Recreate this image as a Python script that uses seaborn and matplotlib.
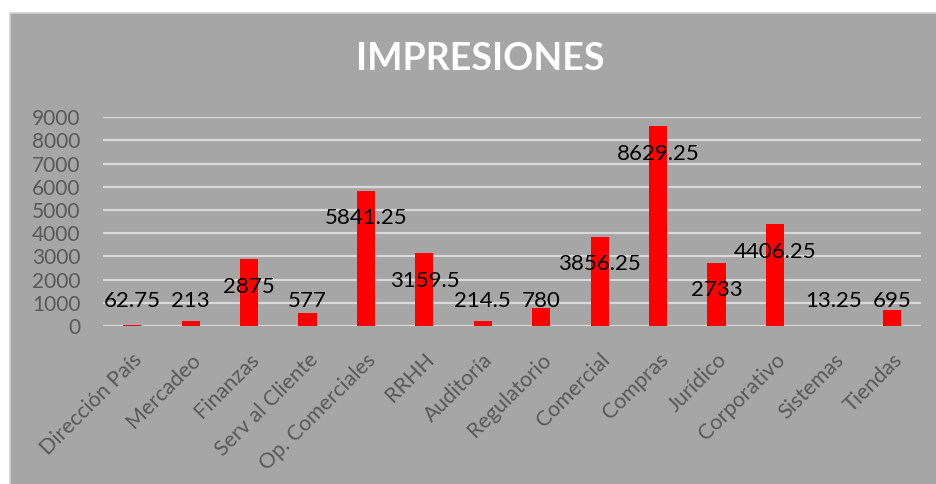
import matplotlib
matplotlib.use("Agg")
import matplotlib.pyplot as plt
import seaborn as sns
import pandas as pd
from matplotlib.patches import Rectangle

categories = ["Dirección País", "Mercadeo", "Finanzas", "Serv al Cliente", "Op. Comerciales",
              "RRHH", "Auditoría", "Regulatorio", "Comercial", "Compras", "Jurídico",
              "Corporativo", "Sistemas", "Tiendas"]
values = [62.75, 213, 2875, 577, 5841.25, 3159.5, 214.5, 780, 3856.25, 8629.25, 2733,
          4406.25, 13.25, 695]
value_labels = ["62.75", "213", "2875", "577", "5841.25", "3159.5", "214.5", "780", "3856.25",
                "8629.25", "2733", "4406.25", "13.25", "695"]
yticks = [0, 1000, 2000, 3000, 4000, 5000, 6000, 7000, 8000, 9000]

sns.set_style("white")
plt.rcParams['font.family'] = ['Lato', 'DejaVu Sans']

W, H = 937, 484
fig = plt.figure(figsize=(W / 100, H / 100), dpi=100, facecolor="white")
fig.patches.append(Rectangle((10 / W, -0.01), 1.0, 1 - 13 / H + 0.01, transform=fig.transFigure,
                             facecolor="#A6A6A6", edgecolor="#D0D0D0", linewidth=1.2, zorder=-5))

ax = fig.add_axes([103 / W, 1 - 326 / H, (921 - 103) / W, (326 - 117.3) / H])
ax.set_zorder(2)
ax.set_facecolor("none")

df = pd.DataFrame({"cat": categories, "val": values})
sns.barplot(data=df, x="cat", y="val", color="#FF0000", saturation=1, width=0.31, ax=ax,
            zorder=3, linewidth=0, edgecolor="none")

ax.set_ylim(0, 9000)
ax.set_xlim(-0.5, len(categories) - 0.5)
ax.set_yticks(yticks)
ax.set_yticklabels([str(t) for t in yticks], fontsize=15, color="#595959")
for t in yticks:
    ax.axhline(t, color="#D9D9D9", lw=1.6, zorder=1)
for s in ax.spines.values():
    s.set_visible(False)
ax.tick_params(axis="y", length=0, pad=16)
ax.tick_params(axis="x", length=0, pad=17)
ax.set_xticks(range(len(categories)))
ax.set_xticklabels(categories, rotation=45, ha="right", rotation_mode="anchor",
                   fontsize=15.5, color="#595959")
ax.set_xlabel("")
ax.set_ylabel("")

for i, (v, lbl) in enumerate(zip(values, value_labels)):
    ypos = max(v - 1200, 1070)
    ax.text(i, ypos, lbl, ha="center", va="center", fontsize=16, color="black", zorder=5)

fig.text(480 / W, 1 - 59 / H, "IMPRESIONES", ha="center", va="center", fontsize=27,
         fontweight="bold", color="white")

fig.savefig("out.png", dpi=100, facecolor=fig.get_facecolor())
